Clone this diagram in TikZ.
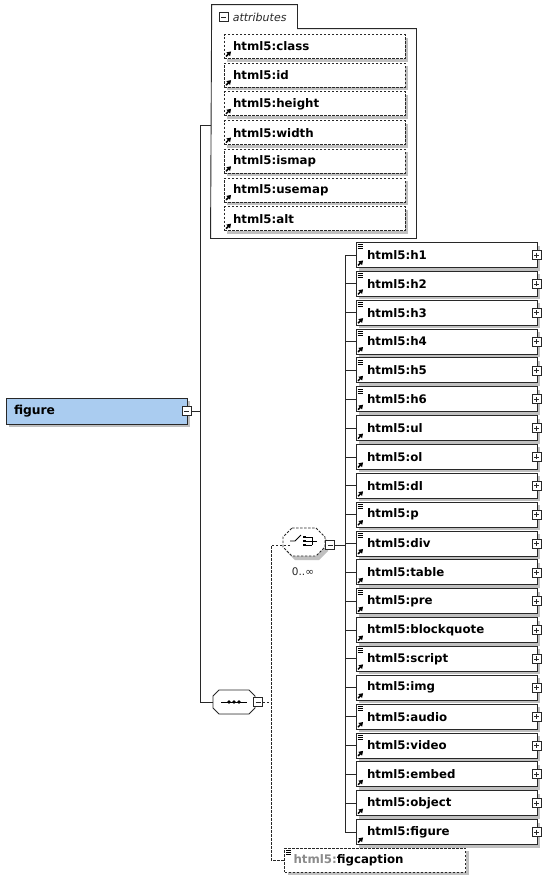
\documentclass[tikz,border=0pt]{standalone}
\usepackage{fontspec}
\setmainfont{DejaVu Sans}
\usetikzlibrary{
    arrows.meta,
    positioning,
    shadows,
    calc
}
\definecolor{rootblue}{RGB}{170,204,240}
\definecolor{boxline}{RGB}{40,40,40}
\definecolor{shadegray}{RGB}{192,192,192}
\definecolor{prefixgray}{RGB}{140,140,140}

% octagon outline round the origin: half width, half height, chamfer
\newcommand{\octpath}[3]{(-#1+#3,-#2) -- (#1-#3,-#2) -- (#1,-#2+#3) -- (#1,#2-#3) -- (#1-#3,#2) -- (-#1+#3,#2) -- (-#1,#2-#3) -- (-#1,-#2+#3) -- cycle}

\begin{document}
\begin{tikzpicture}[
    x=1pt, y=-1pt,
    line width=0.9pt,
    boxshadow/.style={drop shadow={shadow xshift=3pt, shadow yshift=-3pt, fill=shadegray, opacity=1}},
    elem/.style={
        rectangle, draw=boxline, fill=white, boxshadow,
        minimum width=181pt, minimum height=25pt,
        text width=159pt, inner xsep=11pt, inner ysep=0pt, align=left,
        font=\fontsize{11.8}{13}\selectfont\bfseries
    },
    attrib/.style={elem, dash pattern=on 2.5pt off 1.5pt, text width=163pt, inner xsep=9pt, minimum height=24pt},
    pmbox/.style={rectangle, draw=boxline, fill=white, minimum size=9pt, inner sep=0pt, line width=0.7pt},
    minusbox/.style={pmbox, path picture={
        \draw[line width=0.7pt] ([xshift=2pt]path picture bounding box.west) -- ([xshift=-2pt]path picture bounding box.east);}},
    plusbox/.style={pmbox, path picture={
        \draw[line width=0.7pt] ([xshift=2pt]path picture bounding box.west) -- ([xshift=-2pt]path picture bounding box.east);
        \draw[line width=0.7pt] ([yshift=-2pt]path picture bounding box.north) -- ([yshift=2pt]path picture bounding box.south);}},
    compositor/.style={rectangle, inner sep=0pt},
    refarrow/.style={-{Triangle[length=4pt, width=5pt]}, line width=1.5pt},
    link/.style={draw=boxline, line width=0.9pt},
    optlink/.style={link, dash pattern=on 2.5pt off 1.5pt}
]
\useasboundingbox (0,0) rectangle (560,895);

% Root element
\node[elem, fill=rootblue, minimum height=26pt, text width=165pt, inner xsep=8pt, font=\fontsize{12.3}{14}\selectfont\bfseries] (fig) at (96.5,411) {figure};
\node[minusbox] (figm) at ([xshift=-1pt]fig.east) {};

% Attributes group
\node[minimum width=205pt, minimum height=209pt, inner sep=0pt] (attr) at (313.5,133.5) {};
\node[minimum width=85pt, minimum height=24pt, inner sep=0pt] (attrtab) at (254.5,17) {};
\draw[boxline] (attrtab.south west) |- (attrtab.north east) |- (attr.north east) |- (attr.south west) -- cycle;
\node[minusbox] (attrm) at (223.5,17) {};
\node[right=3pt of attrm, inner sep=1pt, font=\fontsize{11}{13}\selectfont\itshape, text=boxline] (attrlbl) {attributes};

\foreach \att [count=\i] in {class,id,height,width,ismap,usemap,alt} {
    \pgfmathsetmacro\ay{46.5+28.7*(\i-1)}
    \node[attrib] (a\i) at (314.5,\ay) {html5:\att};
    \draw[refarrow] ($(a\i.south west)+(2.5,-2.5)$) -- ++(5,-5);
}

% Sequence
\node[compositor, minimum width=42pt, minimum height=25pt] (seq) at (234,702) {};
\begin{scope}[shift={(seq.center)}]
    \fill[shadegray] ([shift={(3,3)}]0,0) \octpath{21}{12}{6};
    \draw[boxline, fill=white] \octpath{21}{12}{6};
    \draw[line width=0.9pt] (-13,0) -- (13,0);
    \foreach \dx in {-5,0,5} \fill (\dx,0) circle (1.8pt);
\end{scope}
\node[minusbox] (seqm) at (258,702) {};

% Choice
\node[compositor, minimum width=42pt, minimum height=28pt] (choice) at (304,542) {};
\begin{scope}[shift={(choice.center)}]
    \begin{scope}[shift={(3,4)}]
        \fill[shadegray] \octpath{21}{14}{9};
    \end{scope}
    \draw[boxline, fill=white, dash pattern=on 2.5pt off 1.5pt] \octpath{21}{14}{9};
    \draw[line width=0.8pt] (-14,-1) -- (-9,-1) -- (-3,-7);
    \foreach \dy in {-5,-1,3} \fill (-1,\dy-1.2) rectangle (1.8,\dy+1.2);
    \draw[line width=0.8pt] (1.8,-5) -- (8,-5) (1.8,-1) -- (13,-1) (1.8,3) -- (8,3) (8,-5) -- (8,3);
\end{scope}
\node[minusbox] (cm) at (330,545) {};
\node[font=\fontsize{10.5}{12}\selectfont, inner sep=0pt, text=boxline] (occurs) at (303,572) {0..∞};

% Choice members
\foreach \tag [count=\i] in {h1,h2,h3,h4,h5,h6,ul,ol,dl,p,div,table,pre,blockquote,script,img,audio,video,embed,object,figure} {
    \pgfmathsetmacro\ey{255+28.85*(\i-1)}
    \node[elem] (e\i) at (446.5,\ey) {html5:\tag};
    \node[plusbox] (p\i) at ([xshift=-1pt]e\i.east) {};
    \draw[refarrow] ($(e\i.south west)+(2.5,-2.5)$) -- ++(5,-5);
}
\foreach \i in {1,...,6,10,11,13,15,17,18} {
    \foreach \d in {2.5,4.5,6.5} \draw[line width=0.6pt] ($(e\i.north west)+(2,\d)$) -- ++(5,0);
}

% Optional caption
\node[attrib, minimum width=180pt] (figcap) at (375,860) {\textcolor{prefixgray}{html5:}figcaption};
\foreach \d in {2.5,4.5,6.5} \draw[line width=0.6pt] ($(figcap.north west)+(2,\d)$) -- ++(5,0);

% Connectors
\coordinate (spinetop) at (200,125);
\draw[link] (figm.east) -- (figm.east -| spinetop);
\draw[link] ([xshift=-21pt]seq.center) -| (spinetop) -- (spinetop -| attr.west);
\coordinate (optbus) at (271,702);
\draw[optlink] (seqm.east) -- (optbus);
\draw[optlink] ([xshift=-14pt]choice.center |- cm) -| (optbus |- figcap.west) -- (figcap.west);
\coordinate (bus) at (345,545);
\draw[link] (cm.east) -- (bus);
\draw[link] (e1.west -| bus) -- (e21.west -| bus);
\foreach \i in {1,...,21} \draw[link] (e\i.west -| bus) -- (e\i.west);

\end{tikzpicture}
\end{document}
